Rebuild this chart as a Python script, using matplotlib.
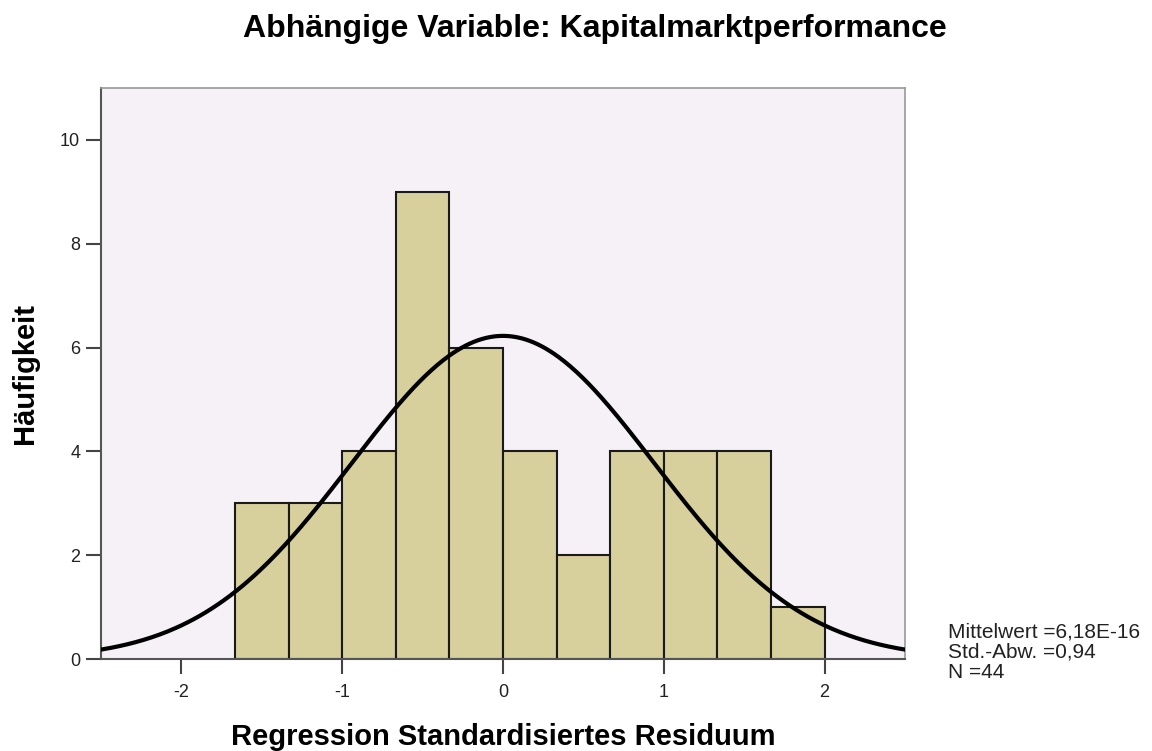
import numpy as np
import matplotlib
matplotlib.use('Agg')
import matplotlib.pyplot as plt

plt.rcParams['font.family'] = ['Liberation Sans', 'DejaVu Sans']

# Histogram data (SPSS residual histogram)
bin_edges = [-5/3, -4/3, -1, -2/3, -1/3, 0, 1/3, 2/3, 1, 4/3, 5/3, 2]
counts = [3, 3, 4, 9, 6, 4, 2, 4, 4, 4, 1]
mean_val = 6.18e-16
sd_val = 0.94
n_val = 44
x_ticks = [-2, -1, 0, 1, 2]
y_ticks = [0, 2, 4, 6, 8, 10]

W, H = 1152, 751
fig = plt.figure(figsize=(W / 100, H / 100), dpi=100)
# axes frame in pixels: left 101, right 905, top 88, bottom 659
ax = fig.add_axes([101 / W, 1 - 659 / H, 804 / W, 571 / H])
ax.set_facecolor('#f5f1f6')

lefts = np.array(bin_edges[:-1])
widths = np.diff(bin_edges)
ax.bar(lefts, counts, width=widths, align='edge', color='#d8d09c',
       edgecolor='#1a1a1a', linewidth=1.5, zorder=2)

# normal curve scaled to counts
bw = widths[0]
xs = np.linspace(-2.5, 2.5, 400)
ys = n_val * bw / (sd_val * np.sqrt(2 * np.pi)) * np.exp(-0.5 * ((xs - mean_val) / sd_val) ** 2)
ax.plot(xs, ys, color='black', linewidth=3.0, zorder=3)

ax.set_xlim(-2.5, 2.5)
ax.set_ylim(0, 11)
ax.set_xticks(x_ticks)
ax.set_xticklabels([str(t) for t in x_ticks])
ax.set_yticks(y_ticks)
ax.tick_params(axis='x', direction='out', length=11, width=1.5, color='#444444',
               labelsize=13, pad=7, labelcolor='#222222')
ax.tick_params(axis='y', direction='out', length=11, width=1.5, color='#444444',
               labelsize=13, pad=4, labelcolor='#222222')
for side in ['left', 'bottom']:
    ax.spines[side].set_color('#555555')
    ax.spines[side].set_linewidth(1.5)
for side in ['top', 'right']:
    ax.spines[side].set_color('#999999')
    ax.spines[side].set_linewidth(1.2)

ax.set_xlabel('Regression Standardisiertes Residuum', fontsize=21,
              fontweight='bold', va='baseline')
ax.xaxis.set_label_coords(0.5, (659 - 745) / 571)
ax.set_ylabel('Häufigkeit', fontsize=21, fontweight='bold', va='center')
ax.yaxis.set_label_coords((25 - 101) / 804, 0.5)

fig.text(595 / W, 1 - 37 / H, 'Abhängige Variable: Kapitalmarktperformance',
         ha='center', va='baseline', fontsize=23, fontweight='bold')

stats_lines = ['Mittelwert =6,18E-16', 'Std.-Abw. =0,94', 'N =44']
fig.text(948 / W, 1 - 678 / H, '\n'.join(stats_lines),
         ha='left', va='baseline', fontsize=15, linespacing=1.1,
         color='#222222')

fig.savefig('out.png', dpi=100, facecolor='white')
